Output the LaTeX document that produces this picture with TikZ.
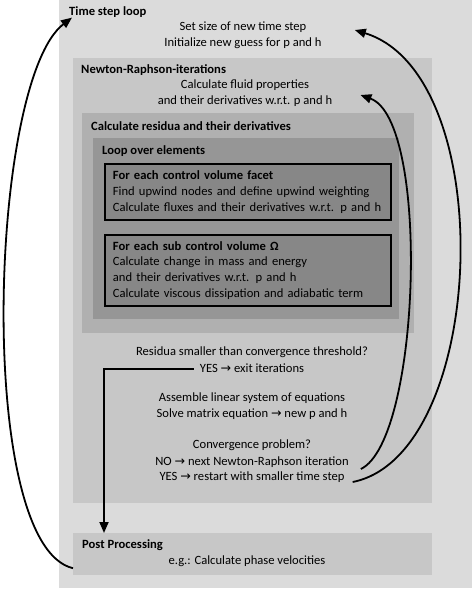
\documentclass[tikz,border=0pt]{standalone}
\usepackage{fontspec}
\setmainfont{Carlito}
\newfontfamily\arrowfont{DejaVu Sans}
\usepackage{tikz}
\usetikzlibrary{positioning,arrows.meta,calc}
\definecolor{loopgray}{gray}{0.86}
\definecolor{nrgray}{gray}{0.78}
\definecolor{resgray}{gray}{0.69}
\definecolor{elgray}{gray}{0.59}
\definecolor{cvgray}{gray}{0.53}
\newcommand{\diagfont}{\fontsize{12.6}{15.8}\selectfont}
\newcommand{\yields}{{\arrowfont →}}
\tikzset{
 every node/.style={font=\diagfont},
 flow/.style={-{Triangle[length=11pt,width=9pt]},
   line width=1.8pt,
   draw=black},
 panel/.style={rectangle,draw=none,inner sep=0pt,anchor=north west},
 stepbox/.style={panel,draw=black,line width=1.8pt,fill=cvgray,
   align=left,text width=270pt,inner xsep=8pt,inner ysep=0pt},
 head/.style={font=\diagfont\bfseries,anchor=west,inner sep=0pt},
 body/.style={align=center,inner sep=0pt}
 }
\begin{document}
\begin{tikzpicture}[x=1pt,y=-1pt]
      \useasboundingbox (0,0) rectangle (473,590);
      % shaded panels, one inside the other
      \node[panel,fill=loopgray,minimum width=413pt,minimum height=588pt] (tsbox) at (59,0) {};
      \node[panel,fill=nrgray,minimum width=359pt,minimum height=445pt] (nrbox) at (73,58) {};
      \node[panel,fill=resgray,minimum width=332pt,minimum height=220pt] (resbox) at (82,113) {};
      \node[panel,fill=elgray,minimum width=306pt,minimum height=181pt] (elbox) at (93,138) {};
      \node[stepbox,minimum height=56pt] (facet) at (104,163)
        {\textbf{For each control volume facet}\\Find upwind nodes and define upwind weighting\\Calculate fluxes and their derivatives w.r.t. p and h};
      \node[stepbox,minimum height=71pt] (subcv) at (104,234)
        {\textbf{For each sub control volume Ω}\\Calculate change in mass and energy\\and their derivatives w.r.t. p and h\\Calculate viscous dissipation and adiabatic term};
      \node[panel,fill=nrgray,minimum width=359pt,minimum height=42pt] (postbox) at (73,533) {};
      % titles
      \node[head] (tsl) at (69,12) {Time step loop};
      \node[head] (nrt) at (81,70) {Newton-Raphson-iterations};
      \node[head] (rest) at (91,126) {Calculate residua and their derivatives};
      \node[head] (elt) at (102,151) {Loop over elements};
      \node[head] (postt) at (82,545) {Post Processing};
      % texts
      \node[body] (setsize) at (243,35) {Set size of new time step\\Initialize new guess for p and h};
      \node[body] (fluid) at (245,93.5) {Calculate fluid properties\\and their derivatives w.r.t. p and h};
      \node[body] (resq) at (252,352) {Residua smaller than convergence threshold?};
      \node[body] (exit) at (252,368) {YES \yields{} exit iterations};
      \node[body] (assemble) at (252,406) {Assemble linear system of equations\\Solve matrix equation \yields{} new p and h};
      \node[body] (conv) at (252,445.5) {Convergence problem?};
      \node[body] (next) at (252,462) {NO \yields{} next Newton-Raphson iteration};
      \node[body] (restart) at (252,477.5) {YES \yields{} restart with smaller time step};
      \node[body] (phase) at (247,561) {e.g.: Calculate phase velocities};
      % loops back and exit
      \draw[flow] ([yshift=-14pt]postbox.west) .. controls +(-98,-23) and +(-83,63) .. ([xshift=3pt]tsl.south west);
      \draw[flow] ([xshift=8pt,yshift=-4.5pt]restart.east) .. controls +(135,-27) and +(146,45) .. ([xshift=33pt,yshift=5pt]setsize.east);
      \draw[flow] ([xshift=12pt,yshift=-7pt]next.east) .. controls +(60,-29) and +(70,25) .. ([xshift=28pt,yshift=-1.5pt]fluid.east);
      \draw[flow] ([xshift=-6pt,yshift=-1pt]exit.west) -| ([xshift=31pt]postbox.north west);
    \end{tikzpicture}
\end{document}
